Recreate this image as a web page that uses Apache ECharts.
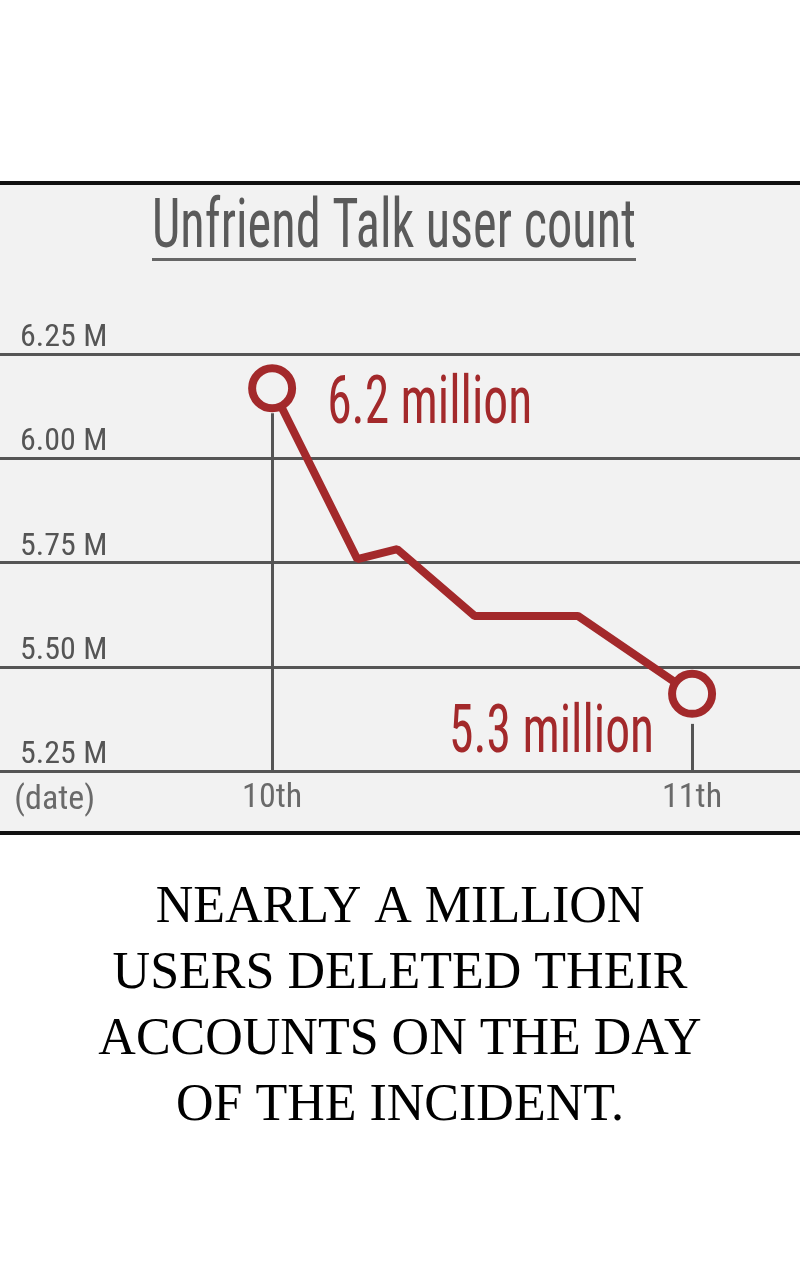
<!DOCTYPE html>
<html>
<head>
<meta charset="utf-8">
<style>
  html, body { margin: 0; padding: 0; background: #ffffff; }
  #chart { width: 800px; height: 1280px; }
</style>
<script src="https://cdn.jsdelivr.net/npm/echarts@6/dist/echarts.min.js"></script>
</head>
<body>
<div id="chart"></div>
<script>
// ---- data ----
const chartTitle = 'Unfriend Talk user count';
const dayValues = [10, 10.203, 10.298, 10.482, 10.728, 11];      // x position in days
const userCounts = [6.168, 5.758, 5.782, 5.622, 5.622, 5.435];    // millions
const pointLabels = ['6.2 million', '', '', '', '', '5.3 million'];
const xTickValues = [10, 11];
const xTickLabels = ['10th', '11th'];
const xAxisName = '(date)';
const dropLineTops = [6.108, 5.363];  // where the drop lines to the date ticks begin
const captionLines = ['NEARLY A MILLION', 'USERS DELETED THEIR', 'ACCOUNTS ON THE DAY', 'OF THE INCIDENT.'];

const RED = '#a3292b';
const GRID_GRAY = '#555555';
const PANEL = '#f2f2f2';
const NARROW = '"Roboto Condensed", "Open Sans Condensed", "Noto Sans Condensed", "DejaVu Sans Condensed", Roboto, sans-serif';

function measure(text, font) {
  const c = document.createElement('canvas').getContext('2d');
  c.font = font;
  return c.measureText(text).width;
}
const TITLE_SIZE = 68;
const titleScaleX = 484 / measure(chartTitle, TITLE_SIZE + 'px ' + NARROW);
const LABEL_SIZE = 66;
const LABEL_WIDTH = 205;

const chart = echarts.init(document.getElementById('chart'), null, { renderer: 'canvas' });

const lastIdx = dayValues.length - 1;
const seriesData = dayValues.map((d, i) => {
  const isEnd = (i === 0 || i === lastIdx);
  return { value: [d, userCounts[i]], symbol: isEnd ? 'circle' : 'none' };
});

const dropData = xTickValues.map((x, i) => [
  { coord: [x, dropLineTops[i]] },
  { coord: [x, 5.25] }
]);

const staticGraphics = [
  { type: 'rect', z: -10, silent: true, shape: { x: 0, y: 183, width: 800, height: 650 }, style: { fill: PANEL } },
  { type: 'rect', z: 10, silent: true, shape: { x: 0, y: 181, width: 800, height: 4 }, style: { fill: '#111111' } },
  { type: 'rect', z: 10, silent: true, shape: { x: 0, y: 831, width: 800, height: 4 }, style: { fill: '#111111' } },
  { type: 'rect', z: 10, silent: true, shape: { x: 152, y: 258, width: 484, height: 3 }, style: { fill: '#666666' } },
  {
    type: 'text', z: 10, silent: true,
    x: 394, y: 230, scaleX: titleScaleX,
    style: {
      text: chartTitle,
      fontFamily: NARROW,
      fontSize: TITLE_SIZE,
      fill: '#5a5a5a',
      align: 'center',
      verticalAlign: 'middle'
    }
  },
  {
    type: 'text', z: 10, silent: true,
    x: 400, y: 875,
    style: {
      text: captionLines.join('\n'),
      fontFamily: '"Liberation Serif", "DejaVu Serif", serif',
      fontSize: 52,
      lineHeight: 66,
      fill: '#000000',
      align: 'center',
      verticalAlign: 'top'
    }
  }
];

const option = {
  animation: false,
  backgroundColor: '#ffffff',
  graphic: staticGraphics,
  grid: { left: 0, right: 0, top: 354, height: 417, containLabel: false },
  xAxis: {
    type: 'value',
    min: 9.352,
    max: 11.257,
    name: xAxisName,
    nameLocation: 'start',
    nameGap: -95,
    nameTextStyle: {
      fontFamily: NARROW, fontSize: 34, color: '#6a6a6a',
      verticalAlign: 'top', padding: [12, 0, 0, 0]
    },
    axisLine: { show: true, lineStyle: { color: GRID_GRAY, width: 3 } },
    axisTick: { show: false },
    splitLine: { show: false },
    axisLabel: {
      customValues: xTickValues,
      formatter: (v) => xTickLabels[xTickValues.indexOf(v)] || '',
      fontFamily: NARROW, fontSize: 34, color: '#6a6a6a', margin: 10
    }
  },
  yAxis: {
    type: 'value',
    min: 5.25,
    max: 6.25,
    interval: 0.25,
    axisLine: { show: false },
    axisTick: { show: false },
    splitLine: { show: true, lineStyle: { color: GRID_GRAY, width: 3 } },
    axisLabel: {
      inside: true,
      margin: 20,
      verticalAlign: 'bottom',
      formatter: (v) => v.toFixed(2) + ' M',
      fontFamily: NARROW, fontSize: 32, color: '#555555'
    }
  },
  series: [{
    type: 'line',
    data: seriesData,
    symbolSize: 40,
    lineStyle: { color: RED, width: 8 },
    itemStyle: { color: PANEL, borderColor: RED, borderWidth: 8 },
    markLine: {
      silent: true,
      symbol: 'none',
      label: { show: false },
      lineStyle: { color: GRID_GRAY, width: 3, type: 'solid' },
      data: dropData
    },
    z: 5
  }]
};

chart.setOption(option);

// value labels, placed next to their points through the chart's own scales
const labelGraphics = [];
dayValues.forEach((d, i) => {
  if (!pointLabels[i]) return;
  const p = chart.convertToPixel({ gridIndex: 0 }, [d, userCounts[i]]);
  const isFirst = i === 0;
  const w = measure(pointLabels[i], LABEL_SIZE + 'px ' + NARROW);
  labelGraphics.push({
    type: 'text', z: 20, silent: true,
    x: p[0] + (isFirst ? 55 : -38),
    y: p[1] + (isFirst ? 18 : 42),
    scaleX: LABEL_WIDTH / w,
    style: {
      text: pointLabels[i],
      fontFamily: NARROW,
      fontSize: LABEL_SIZE,
      fill: RED,
      align: isFirst ? 'left' : 'right',
      verticalAlign: 'middle'
    }
  });
});
chart.setOption({ graphic: staticGraphics.concat(labelGraphics) });
</script>
</body>
</html>
